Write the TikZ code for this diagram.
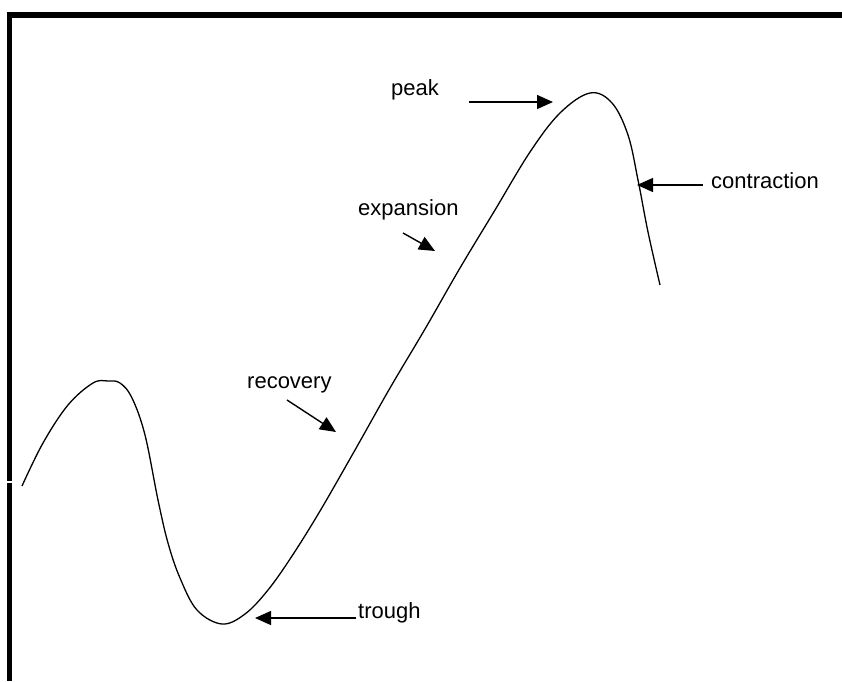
\documentclass[tikz,border=0pt]{standalone}
\usepackage{fontspec}
\setmainfont{Liberation Sans}
\usetikzlibrary{arrows.meta}
\begin{document}
\begin{tikzpicture}[x=1pt,y=-1pt,
  lbl/.style={anchor=base west,inner sep=0pt,font=\fontsize{22}{25}\selectfont},
  pointer/.style={line width=1.4pt,-{Triangle[length=16pt,width=14pt]}},
  cycle/.style={line width=1.3pt,line join=round}]
\useasboundingbox (0,0) rectangle (842,681);
\fill[white] (0,0) rectangle (842,681);
% frame
\draw[line width=6pt] (9.5,15) -- (842,15);
\draw[line width=5pt] (9.5,12) -- (9.5,681);
\draw[white,line width=1.5pt] (0,482) -- (13,482);
% business cycle curve
\draw[cycle] plot[smooth,tension=0.6] coordinates {
 (22,486) (43,443) (68,405) (93,383) (108,381) (120,383) (132,398) (145,435)
 (158,500) (168,543) (180,578) (197,610) (222,624) (245,614) (268,590)
 (292,556) (320,511) (355,450) (390,388) (425,329) (460,268) (495,210)
 (530,152) (560,113) (590,93) (612,103) (628,135) (638,180) (648,232) (660,285)};
% labels
\node[lbl] (peak) at (391,95) {peak};
\node[lbl] (contraction) at (711,188) {contraction};
\node[lbl] (expansion) at (358,215) {expansion};
\node[lbl] (recovery) at (247,388) {recovery};
\node[lbl] (trough) at (358,618) {trough};
% arrow ends
\coordinate (peakS) at (469,102);
\coordinate (peakE) at (553,102);
\coordinate (conS) at (703,185);
\coordinate (conE) at (637,185);
\coordinate (expS) at (403,233);
\coordinate (expE) at (435,251);
\coordinate (recS) at (287,400);
\coordinate (recE) at (336,432);
\coordinate (trS) at (356,618);
\coordinate (trE) at (255,618);
\draw[pointer] (peakS) -- (peakE);
\draw[pointer] (conS) -- (conE);
\draw[pointer] (expS) -- (expE);
\draw[pointer] (recS) -- (recE);
\draw[pointer] (trS) -- (trE);
\end{tikzpicture}
\end{document}
